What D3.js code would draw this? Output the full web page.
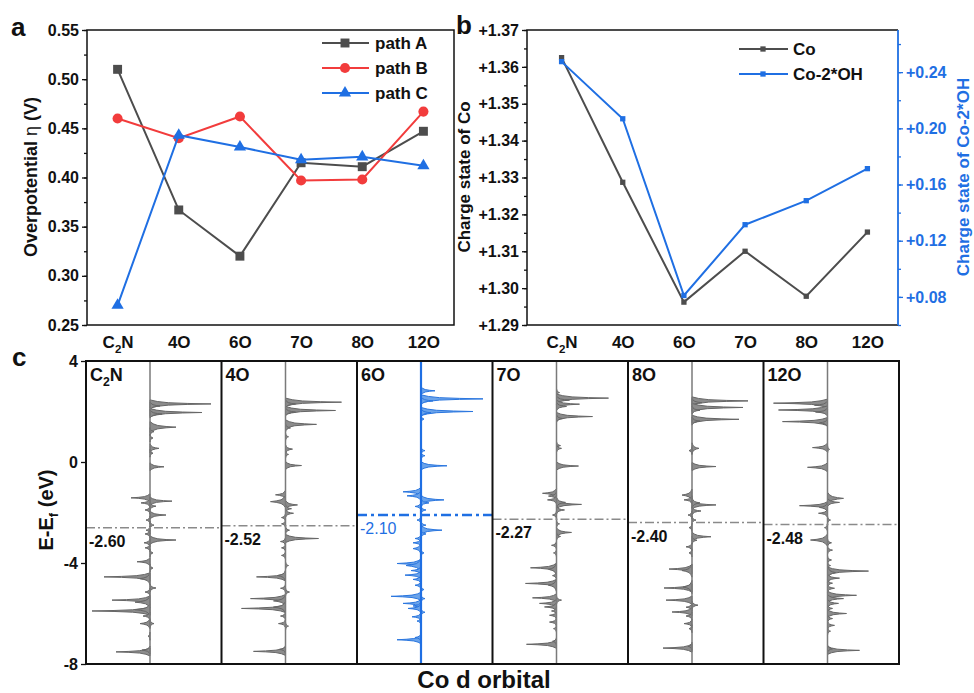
<!DOCTYPE html>
<html>
<head>
<meta charset="utf-8">
<script src="https://cdn.jsdelivr.net/npm/d3@7"></script>
<style>
  body { margin: 0; background: #fff; }
  svg { display: block; font-family: Arial, "Liberation Sans", sans-serif; font-weight: bold; }
</style>
</head>
<body>
<div id="chart"></div>
<script>
// ---- data ----
const categories = ["C2N", "4O", "6O", "7O", "8O", "12O"];

// panel a: overpotential (V)
const pathA = [0.510, 0.367, 0.320, 0.415, 0.411, 0.447];
const pathB = [0.460, 0.440, 0.462, 0.397, 0.398, 0.467];
const pathC = [0.270, 0.443, 0.431, 0.418, 0.421, 0.412];
const overTicks = [0.25, 0.30, 0.35, 0.40, 0.45, 0.50, 0.55];

// panel b: Bader charge
const chargeCo = [1.3625, 1.3287, 1.2962, 1.3100, 1.2978, 1.3152];
const chargeCoOH = [0.2475, 0.2068, 0.0810, 0.1314, 0.1485, 0.1713];
const coTicks = [1.29, 1.30, 1.31, 1.32, 1.33, 1.34, 1.35, 1.36, 1.37];
const ohTicks = [0.08, 0.12, 0.16, 0.20, 0.24];

// panel c: Co d PDOS peaks [energy eV, intensity (+ right / - left), half width]
const dosTicks = [4, 0, -4, -8];
const fermiLevels = [-2.60, -2.52, -2.10, -2.27, -2.40, -2.48];
const dosC2N = [
  [2.30, 6.1], [2.22, 1.0], [1.96, 5.2], [1.90, 1.2], [1.38, 2.6, 0.22], [1.20, 0.4], [0.95, 0.3], [0.54, 0.9, 0.18],
  [0.35, 0.3], [-0.19, 1.4, 0.16], [-1.42, -1.9, 0.16], [-1.55, 2.2], [-1.62, -0.9], [-1.75, 0.6], [-1.90, -0.5],
  [-2.10, 1.6, 0.16], [-2.30, -0.4], [-2.50, 0.4], [-2.70, -0.4], [-2.85, -0.5], [-3.09, 2.6, 0.16], [-3.20, -0.6],
  [-3.40, -0.5], [-3.60, 0.3], [-3.95, -1.3, 0.16], [-4.20, 0.3], [-4.55, -4.6], [-4.62, -1.0, 0.24], [-4.99, 0.6],
  [-5.15, -0.5], [-5.47, -3.8], [-5.55, -1.5, 0.22], [-5.90, -5.8], [-5.85, -1.5, 0.22], [-6.10, -0.7],
  [-6.40, -1.0, 0.2], [-6.40, 0.4], [-6.90, -0.2], [-7.52, -3.4], [-7.45, -0.8]
];
const dos4O = [
  [2.37, 5.6], [2.30, 1.0], [2.04, 5.0], [1.98, 1.0], [1.49, 3.1, 0.18], [1.35, 0.5], [1.00, 0.3], [0.51, 0.7, 0.18],
  [0.30, 0.3], [-0.14, 1.6, 0.16], [-1.30, -1.0, 0.18], [-1.57, -1.5, 0.24], [-1.70, 1.2, 0.18], [-1.85, 0.6],
  [-2.03, 0.8], [-2.20, -0.4], [-2.45, -0.4], [-2.70, 0.4], [-3.03, 3.3], [-3.15, -0.5], [-3.40, -0.4], [-3.70, -0.4],
  [-4.10, 0.3], [-4.55, -2.9], [-4.50, -0.8, 0.22], [-5.00, -0.5], [-5.15, 0.4], [-5.41, -3.5], [-5.50, -1.2, 0.22],
  [-5.80, -4.4], [-5.75, -1.2, 0.22], [-6.10, -0.5], [-6.40, -0.7], [-6.50, 0.3], [-7.50, -3.2], [-7.42, -0.6]
];
const dos6O = [
  [2.82, 1.4], [2.50, 6.2], [2.42, 1.2], [2.00, 5.2], [1.95, 1.0], [1.70, 0.3], [0.45, 0.4], [0.25, 0.4],
  [-0.15, 2.6, 0.16], [-1.18, -1.8, 0.18], [-1.34, -1.4, 0.18], [-1.50, 2.3, 0.18], [-1.62, 0.8], [-1.76, -0.6],
  [-1.90, 0.5], [-2.30, -0.4], [-2.50, 0.5], [-2.70, 2.1, 0.18], [-2.85, 0.5], [-3.03, -0.6], [-3.20, -0.8],
  [-3.43, -0.8, 0.22], [-3.60, 0.3], [-4.02, -2.4, 0.18], [-4.10, -1.5, 0.26], [-4.30, -1.0], [-4.48, -1.6],
  [-4.65, -0.8], [-4.88, -0.6], [-5.05, 0.3], [-5.32, -3.0], [-5.41, 0.4], [-5.60, -1.8], [-5.70, -0.8],
  [-5.80, -1.3], [-5.95, 0.4], [-6.13, -0.9], [-6.30, -0.4], [-7.04, -2.4], [-6.95, -0.6]
];
const dos7O = [
  [2.75, 0.3], [2.53, 5.2], [2.45, 1.3], [2.29, 2.3], [2.20, 1.0], [1.80, 3.6], [1.72, 0.6], [0.65, 0.4],
  [0.54, 0.5], [-0.16, 2.2, 0.16], [-1.24, -1.4, 0.18], [-1.35, -0.8], [-1.50, -0.9], [-1.68, 2.5],
  [-1.60, 0.9, 0.2], [-1.90, 0.8], [-2.10, -0.4], [-2.45, 0.3], [-2.79, 1.5, 0.18], [-2.95, 0.4], [-3.30, -0.5],
  [-3.60, -0.3], [-4.19, -2.6, 0.18], [-4.25, -0.8, 0.26], [-4.50, -0.4], [-4.81, -3.1], [-4.88, -0.8, 0.26],
  [-5.38, -2.4], [-5.47, 0.5], [-5.60, -1.7], [-5.74, -1.2], [-5.90, -0.5], [-6.07, -0.7], [-6.34, -0.7],
  [-6.60, -0.3], [-7.22, -3.0], [-7.10, -0.4]
];
const dos8O = [
  [2.42, 5.6], [2.35, 1.0], [2.16, 5.1], [2.05, 0.8], [1.69, 4.7], [1.62, 0.8], [0.54, 0.7, 0.22], [0.45, -0.3],
  [-0.18, 2.4, 0.16], [-1.31, -1.0, 0.24], [-1.50, -0.8], [-1.70, 2.4], [-1.62, 0.8, 0.2], [-1.94, 0.9],
  [-2.10, -0.4], [-2.30, 0.4], [-2.60, -0.3], [-2.96, 1.9, 0.18], [-3.10, 0.5], [-3.36, -0.6], [-3.60, -0.3],
  [-4.24, -2.3, 0.18], [-4.30, -1.0, 0.26], [-4.99, -2.8], [-4.95, -0.9, 0.26], [-5.47, -2.6], [-5.67, 0.6],
  [-5.75, -0.6], [-5.94, -2.0], [-6.10, -0.6], [-6.40, -0.8], [-6.60, -0.3], [-7.37, -2.9], [-7.30, -0.4]
];
const dos12O = [
  [2.33, -5.4], [2.25, -1.3], [2.06, -4.9], [1.98, -1.2], [1.60, -4.5], [1.55, -0.8], [0.57, -1.5, 0.18],
  [0.50, 0.2], [-0.21, -2.0, 0.18], [-1.44, 1.6, 0.24], [-1.60, 1.2], [-1.73, -2.8], [-1.80, -0.8, 0.2],
  [-2.03, -0.9], [-2.30, 0.3], [-2.60, -0.3], [-3.09, -1.7, 0.24], [-3.20, 0.4], [-3.49, 0.5], [-3.88, 0.4],
  [-4.10, 0.3], [-4.32, 4.1], [-4.38, 0.8, 0.26], [-4.60, 1.2], [-4.80, 0.5], [-5.00, 0.7], [-5.28, 2.9],
  [-5.41, 1.6], [-5.60, 1.1], [-5.80, 0.5], [-6.00, 1.9], [-6.20, 0.5], [-6.47, 0.7], [-6.70, 0.3],
  [-7.46, 3.2], [-7.40, 0.5]
];
const dosSets = [dosC2N, dos4O, dos6O, dos7O, dos8O, dos12O];

// ---- styles ----
const INK = "#111", GRAY = "#4d4d4d", RED = "#f23c3c", BLUE = "#1f6fe3";
const hyphen = (v, p) => v.toFixed(p);   // plain "-" like the original, not U+2212

const svg = d3.select("#chart").append("svg").attr("width", 974).attr("height", 693);

// write "C2N" with a subscript 2
function labelText(sel, s) {
  sel.text(null);
  if (s === "C2N") {
    sel.append("tspan").text("C");
    sel.append("tspan").attr("dy", 5).style("font-size", "0.68em").text("2");
    sel.append("tspan").attr("dy", -5).text("N");
  } else sel.text(s);
}

function styleAxis(g, size, color) {
  g.select(".domain").remove();
  g.selectAll("text").attr("fill", color || INK).style("font-size", size + "px").style("font-weight", "bold")
    .style("font-family", "Arial, 'Liberation Sans', sans-serif");
  g.selectAll("line").attr("stroke", color || INK).attr("stroke-width", 1.3);
}

function minorTicks(lo, hi, step) {
  return d3.range(Math.round((hi - lo) / step) + 1).map(i => +(lo + i * step).toFixed(4));
}

// ================= panel a =================
const ax = d3.scalePoint().domain(categories).range([87, 454]).padding(0.5);
const ay = d3.scaleLinear().domain([0.25, 0.55]).range([325, 30]);
const ga = svg.append("g");

ga.append("g").attr("transform", "translate(87,0)")
  .call(d3.axisLeft(ay).tickValues(minorTicks(0.25, 0.55, 0.025)).tickSize(3).tickFormat(""))
  .call(g => styleAxis(g, 16));
ga.append("g").attr("transform", "translate(87,0)")
  .call(d3.axisLeft(ay).tickValues(overTicks).tickSize(5).tickPadding(3).tickFormat(d => hyphen(d, 2)))
  .call(g => styleAxis(g, 16));
ga.append("g").attr("transform", "translate(0,325)")
  .call(d3.axisBottom(ax).tickSize(0).tickPadding(11))
  .call(g => styleAxis(g, 17))
  .call(g => g.selectAll("text").each(function (d) { labelText(d3.select(this), d); }));
ga.append("rect").attr("x", 87).attr("y", 30).attr("width", 367).attr("height", 295)
  .attr("fill", "none").attr("stroke", INK).attr("stroke-width", 1.5);

const seriesA = [
  { name: "path A", values: pathA, color: GRAY, sym: d3.symbolSquare, size: 80 },
  { name: "path B", values: pathB, color: RED, sym: d3.symbolCircle, size: 80 },
  { name: "path C", values: pathC, color: BLUE, sym: d3.symbolTriangle, size: 65 }
];
const lineA = d3.line().x((d, i) => ax(categories[i])).y(d => ay(d));
seriesA.forEach(s => {
  ga.append("path").attr("d", lineA(s.values)).attr("fill", "none").attr("stroke", s.color).attr("stroke-width", 2);
  ga.selectAll(null).data(s.values).enter().append("path")
    .attr("d", d3.symbol(s.sym, s.size))
    .attr("transform", (d, i) => `translate(${ax(categories[i])},${ay(d)})`)
    .attr("fill", s.color);
});
seriesA.forEach((s, i) => {
  const y = 43 + i * 25;
  ga.append("line").attr("x1", 322).attr("x2", 369).attr("y1", y).attr("y2", y).attr("stroke", s.color).attr("stroke-width", 2);
  ga.append("path").attr("d", d3.symbol(s.sym, s.size)).attr("transform", `translate(345,${y})`).attr("fill", s.color);
  ga.append("text").attr("x", 375).attr("y", y + 6).attr("fill", INK).style("font-size", "17px").text(s.name);
});
ga.append("text").attr("transform", "rotate(-90)").attr("x", -177).attr("y", 37).attr("text-anchor", "middle")
  .attr("fill", INK).style("font-size", "18px")
  .call(t => {
    t.append("tspan").text("Overpotential ");
    t.append("tspan").style("font-weight", "normal").text("η");
    t.append("tspan").text(" (V)");
  });
svg.append("text").attr("x", 11).attr("y", 36).attr("fill", INK).style("font-size", "26px").text("a");

// ================= panel b =================
const bx = d3.scalePoint().domain(categories).range([531, 898]).padding(0.5);
const byL = d3.scaleLinear().domain([1.29, 1.37]).range([325, 30]);
const byR = d3.scaleLinear().domain([0.06, 0.27]).range([325, 30]);
const gb = svg.append("g");
const plus2 = d3.format("+.2f");

gb.append("g").attr("transform", "translate(527,0)")
  .call(d3.axisLeft(byL).tickValues(minorTicks(1.29, 1.37, 0.005)).tickSize(3).tickFormat(""))
  .call(g => styleAxis(g, 16));
gb.append("g").attr("transform", "translate(527,0)")
  .call(d3.axisLeft(byL).tickValues(coTicks).tickSize(5).tickPadding(3).tickFormat(plus2))
  .call(g => styleAxis(g, 16));
gb.append("g").attr("transform", "translate(898,0)")
  .call(d3.axisRight(byR).tickValues(minorTicks(0.06, 0.26, 0.02)).tickSize(3).tickFormat(""))
  .call(g => styleAxis(g, 16, BLUE));
gb.append("g").attr("transform", "translate(898,0)")
  .call(d3.axisRight(byR).tickValues(ohTicks).tickSize(5).tickPadding(3).tickFormat(plus2))
  .call(g => styleAxis(g, 16, BLUE));
gb.append("g").attr("transform", "translate(0,325)")
  .call(d3.axisBottom(bx).tickSize(0).tickPadding(11))
  .call(g => styleAxis(g, 17))
  .call(g => g.selectAll("text").each(function (d) { labelText(d3.select(this), d); }));
gb.append("path").attr("d", "M898,30H527V325H898").attr("fill", "none").attr("stroke", INK).attr("stroke-width", 1.5);
gb.append("line").attr("x1", 898).attr("x2", 898).attr("y1", 30).attr("y2", 325).attr("stroke", BLUE).attr("stroke-width", 1.8);

const seriesB = [
  { name: "Co", values: chargeCo, color: GRAY, y: byL },
  { name: "Co-2*OH", values: chargeCoOH, color: BLUE, y: byR }
];
seriesB.forEach(s => {
  const ln = d3.line().x((d, i) => bx(categories[i])).y(d => s.y(d));
  gb.append("path").attr("d", ln(s.values)).attr("fill", "none").attr("stroke", s.color).attr("stroke-width", 2);
  gb.selectAll(null).data(s.values).enter().append("path")
    .attr("d", d3.symbol(d3.symbolSquare, 28))
    .attr("transform", (d, i) => `translate(${bx(categories[i])},${s.y(d)})`)
    .attr("fill", s.color);
});
seriesB.forEach((s, i) => {
  const y = 49 + i * 25;
  gb.append("line").attr("x1", 739).attr("x2", 788).attr("y1", y).attr("y2", y).attr("stroke", s.color).attr("stroke-width", 2);
  gb.append("path").attr("d", d3.symbol(d3.symbolSquare, 28)).attr("transform", `translate(763,${y})`).attr("fill", s.color);
  gb.append("text").attr("x", 793).attr("y", y + 6).attr("fill", INK).style("font-size", "17px").text(s.name);
});
gb.append("text").attr("transform", "rotate(-90)").attr("x", -177).attr("y", 470).attr("text-anchor", "middle")
  .attr("fill", INK).style("font-size", "17px").text("Charge state of Co");
gb.append("text").attr("transform", "rotate(-90)").attr("x", -177).attr("y", 969).attr("text-anchor", "middle")
  .attr("fill", BLUE).style("font-size", "17px").text("Charge state of Co-2*OH");
svg.append("text").attr("x", 456).attr("y", 34).attr("fill", INK).style("font-size", "26px").text("b");

// ================= panel c =================
const cx = d3.scaleBand().domain(categories).range([86, 899]);
const cy = d3.scaleLinear().domain([-8, 4]).range([664, 361]);
const dosX = d3.scaleLinear().domain([-6.4, 7.15]).range([0, cx.bandwidth()]);
const gc = svg.append("g");

// spike outline, in units of the peak half width / height
const spike = [[-1, 0], [-0.6, 0.12], [-0.3, 0.3], [-0.12, 0.62], [0, 1], [0.12, 0.62], [0.3, 0.3], [0.6, 0.12], [1, 0]];
const dosArea = d3.area().y(p => cy(p[0])).x0(dosX(0)).x1(p => dosX(p[1]));

categories.forEach((cat, i) => {
  const hi = cat === "6O";
  const fill = hi ? "#6aa3ea" : "#8c8c8c", edge = hi ? "#2a76df" : "#666";
  const g = gc.append("g").attr("transform", `translate(${cx(cat)},0)`);
  dosSets[i].forEach(([e, a, w = 0.16]) => {
    g.append("path").attr("d", dosArea(spike.map(([u, h]) => [e + u * w, a * h])))
      .attr("fill", fill).attr("stroke", edge).attr("stroke-width", 1).attr("stroke-linejoin", "round");
  });
  g.append("line").attr("x1", dosX(0)).attr("x2", dosX(0)).attr("y1", 361).attr("y2", 664)
    .attr("stroke", hi ? BLUE : "#7a7a7a").attr("stroke-width", hi ? 2.2 : 1.5);
  g.append("line").attr("x1", 0).attr("x2", cx.bandwidth()).attr("y1", cy(fermiLevels[i])).attr("y2", cy(fermiLevels[i]))
    .attr("stroke", hi ? BLUE : "#8a8a8a").attr("stroke-width", hi ? 2.5 : 1.5)
    .attr("stroke-dasharray", hi ? "10,4,3,4" : "9,3,2,3");
  g.append("text").attr("x", 3).attr("y", cy(fermiLevels[i]) + 19).attr("fill", hi ? BLUE : INK)
    .style("font-size", "16px").style("font-weight", hi ? "normal" : "bold").text(hyphen(fermiLevels[i], 2));
  g.append("text").attr("x", 4).attr("y", 381).attr("fill", INK).style("font-size", "18px")
    .call(t => labelText(t, cat));
  g.append("line").attr("x1", 0).attr("x2", 0).attr("y1", 361).attr("y2", 664).attr("stroke", INK).attr("stroke-width", 2);
});
gc.append("rect").attr("x", 86).attr("y", 361).attr("width", 813).attr("height", 303)
  .attr("fill", "none").attr("stroke", INK).attr("stroke-width", 2);
gc.append("g").attr("transform", "translate(86,0)")
  .call(d3.axisLeft(cy).tickValues(dosTicks).tickSize(5).tickPadding(3).tickFormat(d => String(d)))
  .call(g => styleAxis(g, 16));
gc.append("text").attr("transform", "rotate(-90)").attr("x", -510).attr("y", 53).attr("text-anchor", "middle")
  .attr("fill", INK).style("font-size", "20px")
  .call(t => {
    t.append("tspan").text("E-E");
    t.append("tspan").attr("dy", 5).style("font-size", "0.65em").text("f");
    t.append("tspan").attr("dy", -5).text(" (eV)");
  });
gc.append("text").attr("x", 484).attr("y", 688).attr("text-anchor", "middle").attr("fill", INK)
  .style("font-size", "24px").text("Co d orbital");
svg.append("text").attr("x", 12).attr("y", 366).attr("fill", INK).style("font-size", "26px").text("c");
</script>
</body>
</html>
